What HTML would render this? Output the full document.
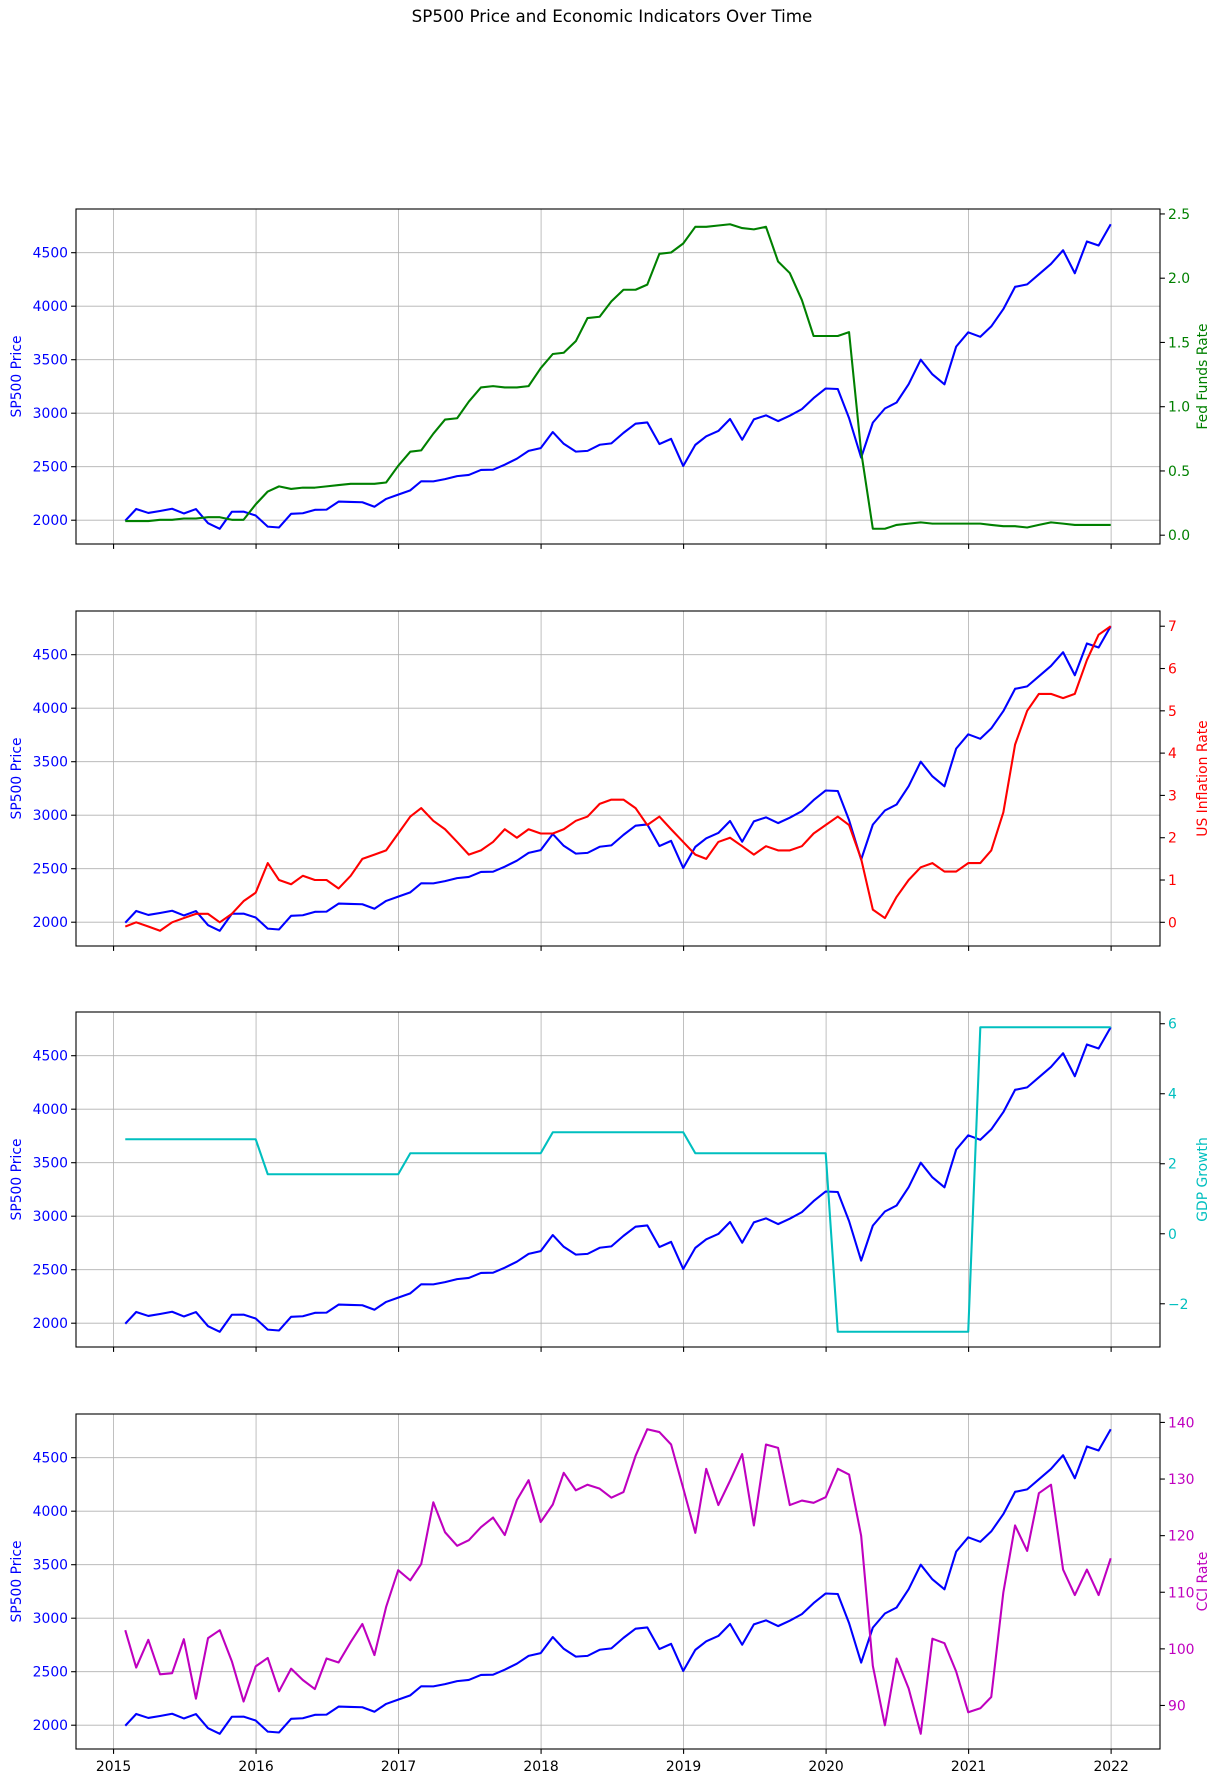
<!DOCTYPE html>
<html><head><meta charset="utf-8"><title>SP500 Price and Economic Indicators Over Time</title>
<style>html,body{margin:0;padding:0;background:#fff;}svg{display:block;font-family:"DejaVu Sans","Liberation Sans",sans-serif;}</style>
</head><body>
<svg id="chart" width="1225" height="1783" viewBox="0 0 1225 1783" xmlns="http://www.w3.org/2000/svg">
<rect x="0" y="0" width="1225" height="1783" fill="#fff"/>
<text x="612" y="22" text-anchor="middle" font-size="16.7" fill="#000">SP500 Price and Economic Indicators Over Time</text>
</svg>
<script>
const sp500 = [1995,2105,2068,2086,2107,2063,2104,1972,1920,2079,2080,2044,
1940,1932,2060,2065,2097,2099,2174,2171,2168,2126,2199,2239,
2279,2364,2363,2384,2412,2423,2470,2472,2519,2575,2648,2674,
2824,2714,2641,2648,2705,2718,2816,2902,2914,2712,2760,2507,
2704,2784,2834,2946,2752,2942,2980,2926,2977,3038,3141,3231,
3226,2954,2585,2912,3044,3100,3271,3500,3363,3270,3622,3756,
3714,3811,3973,4181,4204,4298,4395,4523,4308,4605,4567,4766];
const fedFunds = [0.11,0.11,0.11,0.12,0.12,0.13,0.13,0.14,0.14,0.12,0.12,0.24,
0.34,0.38,0.36,0.37,0.37,0.38,0.39,0.40,0.40,0.40,0.41,0.54,
0.65,0.66,0.79,0.90,0.91,1.04,1.15,1.16,1.15,1.15,1.16,1.30,
1.41,1.42,1.51,1.69,1.70,1.82,1.91,1.91,1.95,2.19,2.20,2.27,
2.40,2.40,2.41,2.42,2.39,2.38,2.40,2.13,2.04,1.83,1.55,1.55,
1.55,1.58,0.65,0.05,0.05,0.08,0.09,0.10,0.09,0.09,0.09,0.09,
0.09,0.08,0.07,0.07,0.06,0.08,0.10,0.09,0.08,0.08,0.08,0.08];
const inflation = [-0.1,0.0,-0.1,-0.2,0.0,0.1,0.2,0.2,0.0,0.2,0.5,0.7,
1.4,1.0,0.9,1.1,1.0,1.0,0.8,1.1,1.5,1.6,1.7,2.1,
2.5,2.7,2.4,2.2,1.9,1.6,1.7,1.9,2.2,2.0,2.2,2.1,
2.1,2.2,2.4,2.5,2.8,2.9,2.9,2.7,2.3,2.5,2.2,1.9,
1.6,1.5,1.9,2.0,1.8,1.6,1.8,1.7,1.7,1.8,2.1,2.3,
2.5,2.3,1.5,0.3,0.1,0.6,1.0,1.3,1.4,1.2,1.2,1.4,
1.4,1.7,2.6,4.2,5.0,5.4,5.4,5.3,5.4,6.2,6.8,7.0];
const gdpYears = [2015,2016,2017,2018,2019,2020,2021];
const gdpGrowth = [2.7,1.7,2.3,2.9,2.3,-2.8,5.9];
const cci = [103.3,96.7,101.6,95.5,95.7,101.7,91.2,101.9,103.3,97.8,90.7,96.9,
98.4,92.5,96.5,94.5,92.9,98.3,97.6,101.2,104.4,98.9,107.4,113.9,
112.1,115,125.9,120.6,118.2,119.2,121.5,123.2,120.1,126.3,129.8,122.4,
125.5,131.1,128,129,128.3,126.7,127.7,134.1,138.8,138.3,136.1,128.4,
120.5,131.8,125.4,129.7,134.4,121.8,136.1,135.5,125.4,126.2,125.8,126.8,
131.8,130.8,120,97,86.5,98.3,93,85,101.8,101,96,88.8,
89.5,91.5,110,121.8,117.3,127.5,129,114,109.5,114,109.5,116];
const xTickYears = [2015,2016,2017,2018,2019,2020,2021,2022];
const leftTicks = [2000,2500,3000,3500,4000,4500];
const fedTicks = [0,0.5,1.0,1.5,2.0,2.5];
const inflTicks = [0,1,2,3,4,5,6,7];
const gdpTicks = [-2,0,2,4,6];
const cciTicks = [90,100,110,120,130,140];

const NS='http://www.w3.org/2000/svg';
const svg=document.getElementById('chart');
function mk(tag,attrs,parent){const e=document.createElementNS(NS,tag);for(const k in attrs)e.setAttribute(k,attrs[k]);(parent||svg).appendChild(e);return e;}
function yearFrac(y,m,d){const s=Date.UTC(y,0,1),e=Date.UTC(y+1,0,1);return y+(Date.UTC(y,m,d)-s)/(e-s);}
const dates=sp500.map((_,i)=>{const y=2015+Math.floor(i/12),m=i%12;const last=new Date(Date.UTC(y,m+1,0)).getUTCDate();return yearFrac(y,m,last);});
const gdp=dates.map((_,i)=>gdpGrowth[gdpYears.indexOf(2015+Math.floor(i/12))]);
const X0=76,X1=1160,H=335;
const tmin=Math.min(...dates),tmax=Math.max(...dates),tr=tmax-tmin;
const xlo=tmin-0.05*tr,xhi=tmax+0.05*tr;
function xs(t){return X0+(t-xlo)/(xhi-xlo)*(X1-X0);}
function lim(a){const lo=Math.min(...a),hi=Math.max(...a),r=hi-lo;return [lo-0.05*r,hi+0.05*r];}
const panels=[
 {top:209,data:fedFunds,color:'#008000',label:'Fed Funds Rate',ticks:fedTicks,fmt:v=>v.toFixed(1),name:'fed-funds'},
 {top:611,data:inflation,color:'#ff0000',label:'US Inflation Rate',ticks:inflTicks,fmt:v=>String(v),name:'inflation'},
 {top:1012,data:gdp,color:'#00bfbf',label:'GDP Growth',ticks:gdpTicks,fmt:v=>v<0?'\u2212'+Math.abs(v):String(v),name:'gdp-growth'},
 {top:1414,data:cci,color:'#bf00bf',label:'CCI Rate',ticks:cciTicks,fmt:v=>String(v),name:'cci'}
];
const spLim=lim(sp500);
panels.forEach((p,pi)=>{
  const g=mk('g',{});
  
  
  const T=p.top,B=T+H;
  const yl=v=>B-(v-spLim[0])/(spLim[1]-spLim[0])*H;
  const rl=lim(p.data);
  const yr=v=>B-(v-rl[0])/(rl[1]-rl[0])*H;
  // grid
  xTickYears.forEach(yv=>{const x=xs(yv);const l=mk('line',{x1:x,x2:x,y1:T,y2:B,stroke:'#b0b0b0','stroke-width':0.8},g);
    
    });
  leftTicks.forEach(v=>{const y=yl(v);const l=mk('line',{x1:X0,x2:X1,y1:y,y2:y,stroke:'#b0b0b0','stroke-width':0.8},g);
    
    });
  // sp500 line
  const sp=mk('polyline',{points:sp500.map((v,i)=>xs(dates[i]).toFixed(2)+','+yl(v).toFixed(2)).join(' '),fill:'none',stroke:'#0000ff','stroke-width':2.08,'stroke-linejoin':'round'},g);
  
  
  const rs=mk('polyline',{points:p.data.map((v,i)=>xs(dates[i]).toFixed(2)+','+yr(v).toFixed(2)).join(' '),fill:'none',stroke:p.color,'stroke-width':2.08,'stroke-linejoin':'round'},g);
  
  
  // frame
  const fr=mk('rect',{x:X0,y:T,width:X1-X0,height:H,fill:'none',stroke:'#000','stroke-width':1.1},g);
  
  
  // left ticks
  leftTicks.forEach(v=>{const y=yl(v);mk('line',{x1:X0-4.9,x2:X0,y1:y,y2:y,stroke:'#000','stroke-width':1.1},g);
    const t=mk('text',{x:X0-8,y:y+5,'text-anchor':'end','font-size':13.9,fill:'#0000ff'},g);t.textContent=String(v);
    
    });
  // right ticks
  p.ticks.forEach(v=>{const y=yr(v);mk('line',{x1:X1,x2:X1+4.9,y1:y,y2:y,stroke:'#000','stroke-width':1.1},g);
    const t=mk('text',{x:X1+8,y:y+5,'text-anchor':'start','font-size':13.9,fill:p.color},g);t.textContent=p.fmt(v);
    
    });
  // x ticks
  xTickYears.forEach(yv=>{const x=xs(yv);mk('line',{x1:x,x2:x,y1:B,y2:B+4.9,stroke:'#000','stroke-width':1.1},g);
    if(pi===3){const t=mk('text',{x:x,y:B+22,'text-anchor':'middle','font-size':13.9,fill:'#000'},g);t.textContent=String(yv);
      
      }});
  // labels
  const cy=T+H/2;
  const ll=mk('text',{x:0,y:0,transform:`translate(21,${cy}) rotate(-90)`,'text-anchor':'middle','font-size':13.9,fill:'#0000ff'},g);ll.textContent='SP500 Price';
  
  
  const rlb=mk('text',{x:0,y:0,transform:`translate(1207,${cy}) rotate(-90)`,'text-anchor':'middle','font-size':13.9,fill:p.color},g);rlb.textContent=p.label;
  
  
});
</script>
</body></html>
